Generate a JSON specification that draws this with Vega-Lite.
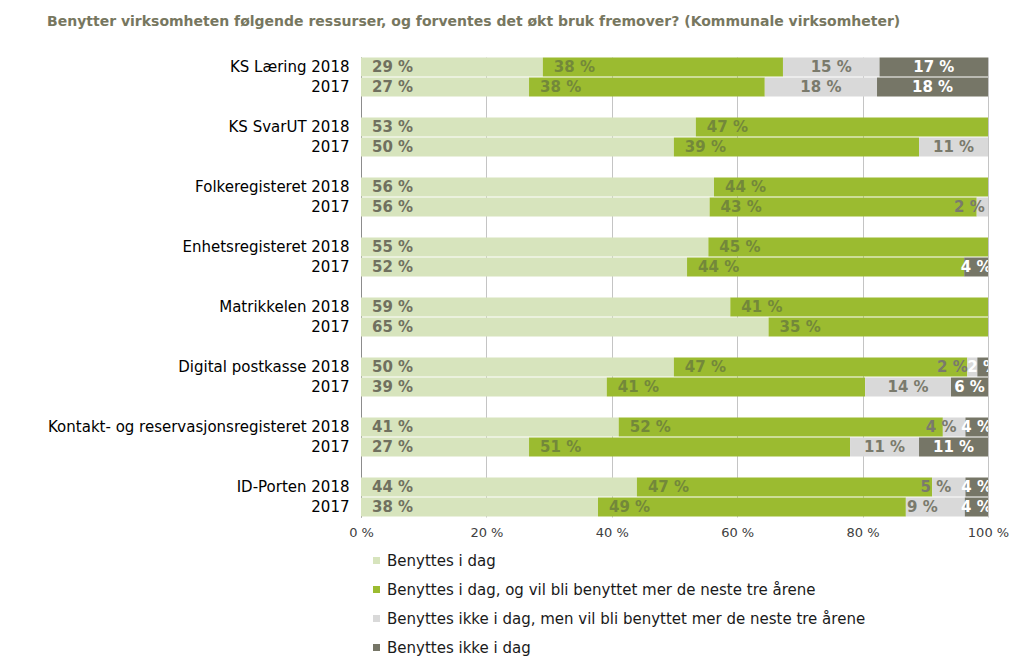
{
  "$schema": "https://vega.github.io/schema/vega-lite/v6.json",
  "width": 627,
  "height": 460,
  "autosize": {"type": "none"},
  "padding": {"left": 361, "top": 57, "right": 36, "bottom": 154},
  "background": "white",
  "config": {"font": "DejaVu Sans", "view": {"stroke": null}},
  "title": {
    "text": "Benytter virksomheten følgende ressurser, og forventes det økt bruk fremover? (Kommunale virksomheter)",
    "anchor": "start",
    "frame": "group",
    "dx": -314,
    "offset": 28,
    "fontSize": 14,
    "fontWeight": "bold",
    "color": "#777760",
    "font": "DejaVu Sans"
  },
  "data": {
    "values": [
      {"row": "KS Læring 2018", "s": "Benyttes i dag", "k": 1, "v": 29.0, "lbl": "29 %"},
      {"row": "KS Læring 2018", "s": "Benyttes i dag, og vil bli benyttet mer de neste tre årene", "k": 2, "v": 38.3, "lbl": "38 %"},
      {"row": "KS Læring 2018", "s": "Benyttes ikke i dag, men vil bli benyttet mer de neste tre årene", "k": 3, "v": 15.4, "lbl": "15 %"},
      {"row": "KS Læring 2018", "s": "Benyttes ikke i dag", "k": 4, "v": 17.3, "lbl": "17 %"},
      {"row": "KS Læring 2017", "s": "Benyttes i dag", "k": 1, "v": 26.8, "lbl": "27 %"},
      {"row": "KS Læring 2017", "s": "Benyttes i dag, og vil bli benyttet mer de neste tre årene", "k": 2, "v": 37.6, "lbl": "38 %"},
      {"row": "KS Læring 2017", "s": "Benyttes ikke i dag, men vil bli benyttet mer de neste tre årene", "k": 3, "v": 17.9, "lbl": "18 %"},
      {"row": "KS Læring 2017", "s": "Benyttes ikke i dag", "k": 4, "v": 17.7, "lbl": "18 %"},
      {"row": "KS SvarUT 2018", "s": "Benyttes i dag", "k": 1, "v": 53.4, "lbl": "53 %"},
      {"row": "KS SvarUT 2018", "s": "Benyttes i dag, og vil bli benyttet mer de neste tre årene", "k": 2, "v": 46.6, "lbl": "47 %"},
      {"row": "KS SvarUT 2017", "s": "Benyttes i dag", "k": 1, "v": 49.9, "lbl": "50 %"},
      {"row": "KS SvarUT 2017", "s": "Benyttes i dag, og vil bli benyttet mer de neste tre årene", "k": 2, "v": 39.1, "lbl": "39 %"},
      {"row": "KS SvarUT 2017", "s": "Benyttes ikke i dag, men vil bli benyttet mer de neste tre årene", "k": 3, "v": 11.0, "lbl": "11 %"},
      {"row": "Folkeregisteret 2018", "s": "Benyttes i dag", "k": 1, "v": 56.3, "lbl": "56 %"},
      {"row": "Folkeregisteret 2018", "s": "Benyttes i dag, og vil bli benyttet mer de neste tre årene", "k": 2, "v": 43.7, "lbl": "44 %"},
      {"row": "Folkeregisteret 2017", "s": "Benyttes i dag", "k": 1, "v": 55.6, "lbl": "56 %"},
      {"row": "Folkeregisteret 2017", "s": "Benyttes i dag, og vil bli benyttet mer de neste tre årene", "k": 2, "v": 42.6, "lbl": "43 %"},
      {"row": "Folkeregisteret 2017", "s": "Benyttes ikke i dag, men vil bli benyttet mer de neste tre årene", "k": 3, "v": 1.8, "lbl": "2 %"},
      {"row": "Enhetsregisteret 2018", "s": "Benyttes i dag", "k": 1, "v": 55.4, "lbl": "55 %"},
      {"row": "Enhetsregisteret 2018", "s": "Benyttes i dag, og vil bli benyttet mer de neste tre årene", "k": 2, "v": 44.6, "lbl": "45 %"},
      {"row": "Enhetsregisteret 2017", "s": "Benyttes i dag", "k": 1, "v": 52.0, "lbl": "52 %"},
      {"row": "Enhetsregisteret 2017", "s": "Benyttes i dag, og vil bli benyttet mer de neste tre årene", "k": 2, "v": 44.2, "lbl": "44 %"},
      {"row": "Enhetsregisteret 2017", "s": "Benyttes ikke i dag", "k": 4, "v": 3.8, "lbl": "4 %"},
      {"row": "Matrikkelen 2018", "s": "Benyttes i dag", "k": 1, "v": 58.9, "lbl": "59 %"},
      {"row": "Matrikkelen 2018", "s": "Benyttes i dag, og vil bli benyttet mer de neste tre årene", "k": 2, "v": 41.1, "lbl": "41 %"},
      {"row": "Matrikkelen 2017", "s": "Benyttes i dag", "k": 1, "v": 65.0, "lbl": "65 %"},
      {"row": "Matrikkelen 2017", "s": "Benyttes i dag, og vil bli benyttet mer de neste tre årene", "k": 2, "v": 35.0, "lbl": "35 %"},
      {"row": "Digital postkasse  2018", "s": "Benyttes i dag", "k": 1, "v": 49.9, "lbl": "50 %"},
      {"row": "Digital postkasse  2018", "s": "Benyttes i dag, og vil bli benyttet mer de neste tre årene", "k": 2, "v": 46.8, "lbl": "47 %"},
      {"row": "Digital postkasse  2018", "s": "Benyttes ikke i dag, men vil bli benyttet mer de neste tre årene", "k": 3, "v": 1.6, "lbl": "2 %"},
      {"row": "Digital postkasse  2018", "s": "Benyttes ikke i dag", "k": 4, "v": 1.7, "lbl": "2 %"},
      {"row": "Digital postkasse 2017", "s": "Benyttes i dag", "k": 1, "v": 39.2, "lbl": "39 %"},
      {"row": "Digital postkasse 2017", "s": "Benyttes i dag, og vil bli benyttet mer de neste tre årene", "k": 2, "v": 41.2, "lbl": "41 %"},
      {"row": "Digital postkasse 2017", "s": "Benyttes ikke i dag, men vil bli benyttet mer de neste tre årene", "k": 3, "v": 13.7, "lbl": "14 %"},
      {"row": "Digital postkasse 2017", "s": "Benyttes ikke i dag", "k": 4, "v": 5.9, "lbl": "6 %"},
      {"row": "Kontakt- og reservasjonsregisteret 2018", "s": "Benyttes i dag", "k": 1, "v": 41.1, "lbl": "41 %"},
      {"row": "Kontakt- og reservasjonsregisteret 2018", "s": "Benyttes i dag, og vil bli benyttet mer de neste tre årene", "k": 2, "v": 51.7, "lbl": "52 %"},
      {"row": "Kontakt- og reservasjonsregisteret 2018", "s": "Benyttes ikke i dag, men vil bli benyttet mer de neste tre årene", "k": 3, "v": 3.6, "lbl": "4 %"},
      {"row": "Kontakt- og reservasjonsregisteret 2018", "s": "Benyttes ikke i dag", "k": 4, "v": 3.6, "lbl": "4 %"},
      {"row": "Kontakt- og reservasjonsregisteret 2017", "s": "Benyttes i dag", "k": 1, "v": 26.8, "lbl": "27 %"},
      {"row": "Kontakt- og reservasjonsregisteret 2017", "s": "Benyttes i dag, og vil bli benyttet mer de neste tre årene", "k": 2, "v": 51.2, "lbl": "51 %"},
      {"row": "Kontakt- og reservasjonsregisteret 2017", "s": "Benyttes ikke i dag, men vil bli benyttet mer de neste tre årene", "k": 3, "v": 11.0, "lbl": "11 %"},
      {"row": "Kontakt- og reservasjonsregisteret 2017", "s": "Benyttes ikke i dag", "k": 4, "v": 11.0, "lbl": "11 %"},
      {"row": "ID-Porten 2018", "s": "Benyttes i dag", "k": 1, "v": 44.0, "lbl": "44 %"},
      {"row": "ID-Porten 2018", "s": "Benyttes i dag, og vil bli benyttet mer de neste tre årene", "k": 2, "v": 47.1, "lbl": "47 %"},
      {"row": "ID-Porten 2018", "s": "Benyttes ikke i dag, men vil bli benyttet mer de neste tre årene", "k": 3, "v": 5.3, "lbl": "5 %"},
      {"row": "ID-Porten 2018", "s": "Benyttes ikke i dag", "k": 4, "v": 3.6, "lbl": "4 %"},
      {"row": "ID-Porten 2017", "s": "Benyttes i dag", "k": 1, "v": 37.8, "lbl": "38 %"},
      {"row": "ID-Porten 2017", "s": "Benyttes i dag, og vil bli benyttet mer de neste tre årene", "k": 2, "v": 49.1, "lbl": "49 %"},
      {"row": "ID-Porten 2017", "s": "Benyttes ikke i dag, men vil bli benyttet mer de neste tre årene", "k": 3, "v": 9.4, "lbl": "9 %"},
      {"row": "ID-Porten 2017", "s": "Benyttes ikke i dag", "k": 4, "v": 3.7, "lbl": "4 %"}
    ]
  },
  "encoding": {
    "y": {
      "field": "row",
      "type": "nominal",
      "title": null,
      "scale": {
        "domain": [
          "KS Læring 2018", "KS Læring 2017", "gap1",
          "KS SvarUT 2018", "KS SvarUT 2017", "gap2",
          "Folkeregisteret 2018", "Folkeregisteret 2017", "gap3",
          "Enhetsregisteret 2018", "Enhetsregisteret 2017", "gap4",
          "Matrikkelen 2018", "Matrikkelen 2017", "gap5",
          "Digital postkasse  2018", "Digital postkasse 2017", "gap6",
          "Kontakt- og reservasjonsregisteret 2018", "Kontakt- og reservasjonsregisteret 2017", "gap7",
          "ID-Porten 2018", "ID-Porten 2017"
        ],
        "paddingInner": 0.05,
        "paddingOuter": 0.025
      },
      "axis": {
        "labelExpr": "test(/2017$/, datum.value) ? '2017' : (test(/^gap/, datum.value) ? '' : datum.value)",
        "ticks": false,
        "domain": true,
        "domainColor": "#8c8c8c",
        "labelFontSize": 15,
        "labelColor": "#000000",
        "labelPadding": 12,
        "labelLimit": 400
      }
    }
  },
  "layer": [
    {
      "mark": {"type": "bar"},
      "encoding": {
        "x": {
          "field": "v",
          "type": "quantitative",
          "stack": "zero",
          "scale": {"domain": [0, 100]},
          "title": null,
          "axis": {
            "values": [0, 20, 40, 60, 80, 100],
            "labelExpr": "datum.value + ' %'",
            "labelFlush": false,
            "grid": true,
            "gridColor": "#c4c4c4",
            "domain": false,
            "ticks": false,
            "labelFontSize": 13,
            "labelColor": "#404040",
            "labelPadding": 9
          }
        },
        "color": {
          "field": "s",
          "type": "nominal",
          "scale": {
            "domain": [
              "Benyttes i dag",
              "Benyttes i dag, og vil bli benyttet mer de neste tre årene",
              "Benyttes ikke i dag, men vil bli benyttet mer de neste tre årene",
              "Benyttes ikke i dag"
            ],
            "range": ["#d7e4bd", "#9bbb30", "#d9d9d9", "#767667"]
          },
          "legend": {
            "orient": "none",
            "legendX": 8,
            "legendY": 496,
            "direction": "vertical",
            "title": null,
            "symbolType": "square",
            "symbolSize": 49,
            "symbolStrokeWidth": 0,
            "labelFontSize": 15,
            "labelColor": "#1a1a1a",
            "rowPadding": 13,
            "labelOffset": 3,
            "labelLimit": 600
          }
        },
        "order": {"field": "k", "type": "quantitative"}
      }
    },
    {
      "mark": {"type": "text", "align": "left", "baseline": "middle", "dx": 11, "fontSize": 15, "fontWeight": "bold", "clip": true},
      "encoding": {
        "x": {"field": "v", "type": "quantitative", "stack": "zero", "bandPosition": 0},
        "detail": {"field": "s"},
        "order": {"field": "k", "type": "quantitative"},
        "text": {"condition": {"test": "datum.k <= 2", "field": "lbl"}, "value": ""},
        "color": {"condition": {"test": "datum.k == 1", "value": "#70705f"}, "value": "#73883a"}
      }
    },
    {
      "mark": {"type": "text", "align": "center", "baseline": "middle", "fontSize": 15, "fontWeight": "bold", "clip": true, "dx": {"expr": "datum.k == 3 && datum.v < 1.7 ? -20 : (datum.k == 3 && datum.v < 10 ? -13 : 0)"}},
      "encoding": {
        "x": {"field": "v", "type": "quantitative", "stack": "zero", "bandPosition": 0.5},
        "detail": {"field": "s"},
        "order": {"field": "k", "type": "quantitative"},
        "text": {"condition": {"test": "datum.k >= 3", "field": "lbl"}, "value": ""},
        "color": {"condition": {"test": "datum.k == 3", "value": "#7a7a6c"}, "value": "#ffffff"}
      }
    }
  ]
}
